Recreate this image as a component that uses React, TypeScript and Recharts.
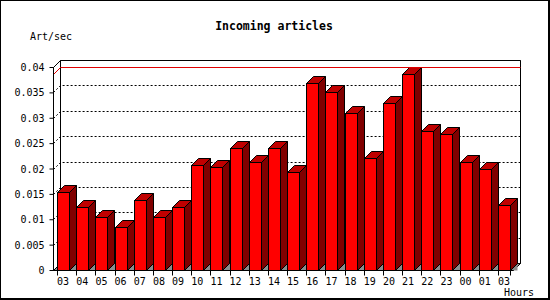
import { Bar, BarChart, CartesianGrid, ReferenceArea, ReferenceLine, XAxis, YAxis } from 'recharts'

const hours = ['03', '04', '05', '06', '07', '08', '09', '10', '11', '12', '13', '14', '15', '16', '17', '18', '19', '20', '21', '22', '23', '00', '01', '03']
const rates = [0.0153, 0.0125, 0.0104, 0.0084, 0.01375, 0.0104, 0.0124, 0.0207, 0.0203, 0.024, 0.02125, 0.024, 0.0193, 0.0368, 0.0351, 0.0309, 0.022, 0.0329, 0.0386, 0.0274, 0.0268, 0.02125, 0.0199, 0.0128]
const yTicks = [0, 0.005, 0.01, 0.015, 0.02, 0.025, 0.03, 0.035, 0.04]

const data = hours.map((hour, i) => ({ hour, rate: rates[i] }))
const maxRate = Math.max(...rates)

const DEPTH = 7
const MONO = '"DejaVu Sans Mono", monospace'

// snap to pixel centres so the 1px outlines stay crisp
const px = (v: number) => Math.round(v - 0.5) + 0.5

// 3d box: front, top and side faces plus the bit of floor under the side
function Box3D(props: any) {
  const { background, index } = props
  if (props.height == null || props.width == null) return null
  const d = DEPTH
  const x = px(props.x)
  const y = px(props.y)
  const w = Math.round(props.width)
  const b = px(props.y + props.height)
  const bg = background
  return (
    <g>
      <polygon points={`${x + w},${b} ${x + w + d},${b - d} ${x + w + d},${b}`} fill="#8c8c8c" />
      <polygon
        points={`${x + w},${y} ${x + w + d},${y - d} ${x + w + d},${b - d} ${x + w},${b}`}
        fill="#800000"
        stroke="#000"
      />
      <polygon
        points={`${x},${y} ${x + d},${y - d} ${x + w + d},${y - d} ${x + w},${y}`}
        fill="#c00000"
        stroke="#000"
      />
      <rect x={x} y={y} width={w} height={b - y} fill="#ff0000" stroke="#000" />
      {bg && bg.x != null && (
        <path
          d={`M${px(bg.x)},${b} v5` + (index === hours.length - 1 ? ` M${px(bg.x + bg.width)},${b} v5` : '')}
          stroke="#000"
        />
      )}
    </g>
  )
}

function BackWall(props: any) {
  const { x, y, width: w, height: h } = props
  const d = DEPTH
  const b = y + h
  return (
    <g>
      <polygon
        points={`${x},${b} ${x + w},${b} ${x + w + d},${b - d} ${x + d},${b - d}`}
        fill="#8c8c8c"
        stroke="#000"
      />
      <path
        d={`M${x + d},${b - d} V${y - d} H${x + w + d} V${b - d} M${x},${y} L${x + d},${y - d}`}
        fill="none"
        stroke="#000"
      />
    </g>
  )
}

function GridLine(props: any) {
  const { x1, x2 } = props
  const y1 = px(props.y1)
  const d = DEPTH
  return (
    <path
      key={props.key ?? `g-${props.index}`}
      d={`M${x1},${y1} L${x1 + d},${y1 - d} H${x2 + d}`}
      fill="none"
      stroke="#000"
      strokeDasharray="2 2"
    />
  )
}

function MaxLine(props: any) {
  const { x1, x2 } = props
  const y1 = px(props.y1)
  const d = DEPTH
  return (
    <path d={`M${x1},${y1} L${x1 + d},${y1 - d} H${x2 + d}`} fill="none" stroke="#e00000" />
  )
}

function HourTick(props: any) {
  const { x, y, payload } = props
  return (
    <text x={x} y={y} dy="0.71em" textAnchor="middle" fill="#000" fontSize={10} fontFamily={MONO}>
      {payload.value}
    </text>
  )
}

export default function App() {
  return (
    <div style={{ position: 'absolute', left: 0, top: 0, width: 550, height: 300, background: '#fff' }}>
      <BarChart
        width={550}
        height={300}
        data={data}
        margin={{ top: 67.5, right: 36.5, bottom: 9.5, left: 0.5 }}
        barSize={12}
      >
        <CartesianGrid vertical={false} horizontal={GridLine} />
        <ReferenceArea y1={0} y2={0.04} shape={BackWall} zIndex={-50} />
        <XAxis
          dataKey="hour"
          interval={0}
          height={20}
          tickLine={false}
          tickSize={5}
          tickMargin={2}
          axisLine={{ stroke: '#000' }}
          tick={HourTick}
        />
        <YAxis
          width={53}
          domain={[0, 0.04]}
          ticks={yTicks}
          interval={0}
          tickSize={4}
          tickMargin={5}
          axisLine={{ stroke: '#000' }}
          tickLine={{ stroke: '#000' }}
          tick={{ fill: '#000', fontSize: 10, fontFamily: MONO }}
        />
        <ReferenceLine y={maxRate} shape={MaxLine} />
        <Bar dataKey="rate" shape={Box3D} isAnimationActive={false} />
      </BarChart>
      <svg
        width={550}
        height={300}
        style={{ position: 'absolute', left: 0, top: 0, pointerEvents: 'none' }}
      >
        <text x={274} y={30} textAnchor="middle" fontFamily={MONO} fontWeight="bold" fontSize={11.5}>
          Incoming articles
        </text>
        <text x={30} y={40} fontFamily={MONO} fontSize={10}>
          Art/sec
        </text>
        <text x={504} y={295.5} fontFamily={MONO} fontSize={10}>
          Hours
        </text>
      </svg>
      <div
        style={{
          position: 'absolute',
          left: 0,
          top: 0,
          width: 550,
          height: 300,
          boxSizing: 'border-box',
          borderLeft: '1px solid #000',
          borderTop: '1px solid #000',
          borderRight: '2px solid #000',
          borderBottom: '2px solid #000',
          pointerEvents: 'none',
        }}
      />
    </div>
  )
}
